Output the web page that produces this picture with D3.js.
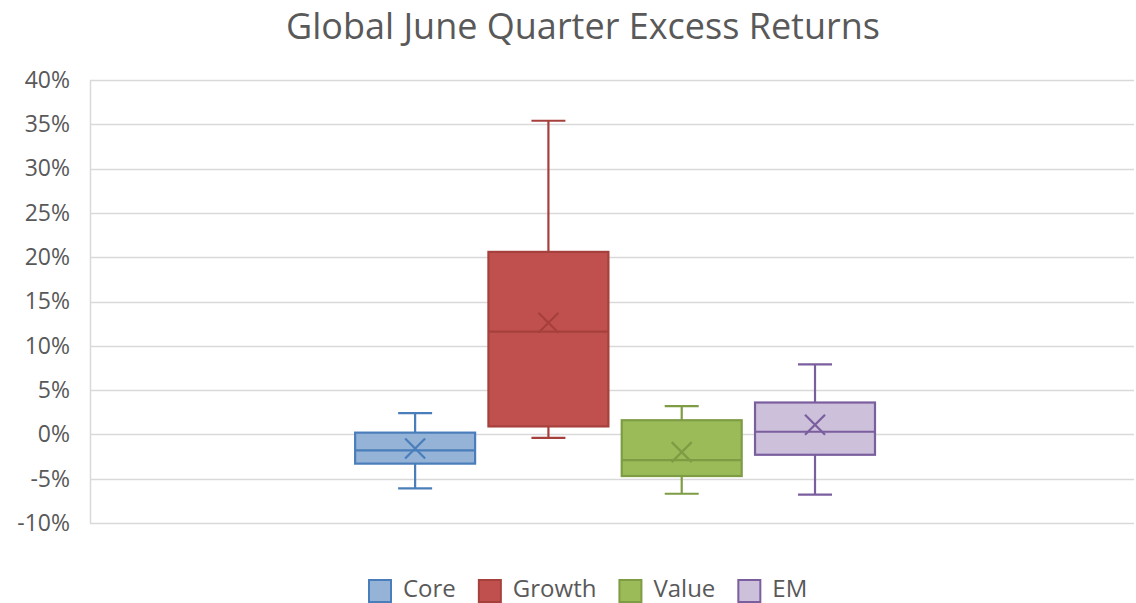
<!DOCTYPE html>
<html>
<head>
<meta charset="utf-8">
<script src="https://cdn.jsdelivr.net/npm/d3@7"></script>
<style>
  body { margin: 0; background: #fff; }
  svg { display: block; font-family: "Open Sans", sans-serif; }
</style>
</head>
<body>
<div id="chart"></div>
<script>
var width = 1136, height = 603;

// data (fractions)
var series = ["Core", "Growth", "Value", "EM"];
var whiskerMax = [0.024, 0.354, 0.032, 0.079];
var q3Values = [0.002, 0.206, 0.016, 0.036];
var medians = [-0.018, 0.116, -0.029, 0.003];
var q1Values = [-0.033, 0.009, -0.047, -0.023];
var whiskerMin = [-0.061, -0.004, -0.067, -0.068];
var means = [-0.016, 0.126, -0.020, 0.011];
var yTicks = [-0.1, -0.05, 0, 0.05, 0.1, 0.15, 0.2, 0.25, 0.3, 0.35, 0.4];

var fills = ["#95B3D7", "#C0504D", "#9BBB59", "#CCC0DA"];
var strokes = ["#4A7EBB", "#A6403D", "#7E9C44", "#7B5E9E"];

var plot = {left: 90, right: 1134, top: 80, bottom: 523};

var svg = d3.select("#chart").append("svg")
  .attr("width", width)
  .attr("height", height);

var y = d3.scaleLinear()
  .domain([-0.1, 0.4])
  .range([plot.bottom, plot.top]);

// one category holding the four series
var x0 = d3.scaleBand()
  .domain(["Q2"])
  .range([plot.left, plot.right])
  .paddingOuter(0.479)
  .align(0.506);

var x1 = d3.scaleBand()
  .domain(series)
  .range([0, x0.bandwidth()])
  .paddingInner(0.1)
  .paddingOuter(0.05);

svg.append("text")
  .attr("x", 583)
  .attr("y", 39)
  .attr("text-anchor", "middle")
  .attr("fill", "#595959")
  .style("font-size", "36px")
  .text("Global June Quarter Excess Returns");

// gridlines
svg.append("g")
  .selectAll("line")
  .data(yTicks)
  .enter()
  .append("line")
  .attr("x1", plot.left)
  .attr("x2", plot.right)
  .attr("y1", d => Math.round(y(d)) + 0.5)
  .attr("y2", d => Math.round(y(d)) + 0.5)
  .attr("stroke", "#D9D9D9")
  .attr("stroke-width", 1.5);

var yAxis = svg.append("g")
  .attr("transform", "translate(" + plot.left + ",0)")
  .call(d3.axisLeft(y).tickValues(yTicks).tickSize(0).tickPadding(20).tickFormat(d3.format(".0%")));
yAxis.select(".domain").attr("stroke", "#D9D9D9").attr("stroke-width", 1.5);
yAxis.selectAll("text")
  .attr("fill", "#595959")
  .style("font-size", "23px")
  .style("font-family", "'Open Sans', sans-serif")
  .text(d => d3.format(".0%")(d).replace("−", "-"));

var boxes = svg.append("g")
  .selectAll("g")
  .data(series)
  .enter()
  .append("g")
  .attr("transform", d => "translate(" + (x0("Q2") + x1(d)) + ",0)");

var bw = x1.bandwidth(), cap = 34;

// whiskers
boxes.append("line")
  .attr("x1", bw / 2).attr("x2", bw / 2)
  .attr("y1", (d, i) => y(whiskerMax[i]))
  .attr("y2", (d, i) => y(whiskerMin[i]))
  .attr("stroke", (d, i) => strokes[i])
  .attr("stroke-width", 2.2);

boxes.append("line")
  .attr("x1", bw / 2 - cap / 2).attr("x2", bw / 2 + cap / 2)
  .attr("y1", (d, i) => y(whiskerMax[i]))
  .attr("y2", (d, i) => y(whiskerMax[i]))
  .attr("stroke", (d, i) => strokes[i])
  .attr("stroke-width", 2.2);

boxes.append("line")
  .attr("x1", bw / 2 - cap / 2).attr("x2", bw / 2 + cap / 2)
  .attr("y1", (d, i) => y(whiskerMin[i]))
  .attr("y2", (d, i) => y(whiskerMin[i]))
  .attr("stroke", (d, i) => strokes[i])
  .attr("stroke-width", 2.2);

// box
boxes.append("rect")
  .attr("x", 0)
  .attr("width", bw)
  .attr("y", (d, i) => y(q3Values[i]))
  .attr("height", (d, i) => y(q1Values[i]) - y(q3Values[i]))
  .attr("fill", (d, i) => fills[i])
  .attr("stroke", (d, i) => strokes[i])
  .attr("stroke-width", 2.2);

// median
boxes.append("line")
  .attr("x1", 0).attr("x2", bw)
  .attr("y1", (d, i) => y(medians[i]))
  .attr("y2", (d, i) => y(medians[i]))
  .attr("stroke", (d, i) => strokes[i])
  .attr("stroke-width", 2.2);

// mean marker
var m = 10;
boxes.append("path")
  .attr("d", (d, i) => {
    var cx = bw / 2, cy = y(means[i]);
    return "M" + (cx - m) + "," + (cy - m) + "L" + (cx + m) + "," + (cy + m) +
      "M" + (cx - m) + "," + (cy + m) + "L" + (cx + m) + "," + (cy - m);
  })
  .attr("stroke", (d, i) => strokes[i])
  .attr("stroke-width", 2.2)
  .attr("fill", "none");

// legend
var legend = svg.append("g").attr("transform", "translate(0,590)");
var lx = 369;
series.forEach(function(s, i) {
  var item = legend.append("g").attr("transform", "translate(" + lx + ",0)");
  item.append("rect")
    .attr("x", 0).attr("y", -10)
    .attr("width", 22).attr("height", 22)
    .attr("fill", fills[i])
    .attr("stroke", strokes[i])
    .attr("stroke-width", 2);
  var t = item.append("text")
    .attr("x", 34)
    .attr("y", 7)
    .attr("fill", "#595959")
    .style("font-size", "24px")
    .text(s);
  lx += 34 + t.node().getComputedTextLength() + 23;
});
</script>
</body>
</html>
